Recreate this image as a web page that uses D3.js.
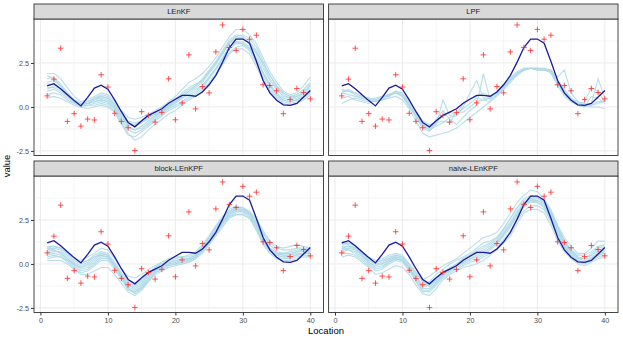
<!DOCTYPE html>
<html><head><meta charset="utf-8">
<script src="https://cdn.jsdelivr.net/npm/d3@7"></script>
<style>body{margin:0;background:#fff}svg{display:block;font-family:"Liberation Sans",Arial,sans-serif}</style>
</head><body><svg id="c" width="623" height="340"></svg>
<script>
const locations = d3.range(1, 41);
const panels = ["LEnKF", "LPF", "block-LEnKPF", "naive-LEnKPF"];
const xTicks = [0, 10, 20, 30, 40];
const yTicks = [-2.5, 0.0, 2.5];
const yTickLabels = ["-2.5", "0.0", "2.5"];

const observations = [0.63,1.58,3.34,-0.82,-0.38,-1.09,-0.69,-0.74,1.83,1.13,-0.36,-0.82,-1.18,-2.48,-0.27,-0.48,-0.86,-0.31,1.60,-0.73,0.23,2.96,-0.11,1.16,0.80,3.13,4.66,3.38,3.21,4.41,3.85,4.08,1.26,1.22,0.92,-0.38,0.42,1.05,0.82,0.46];
const truth = [1.20,1.32,1.03,0.69,0.36,0.06,0.55,1.07,1.24,1.01,0.40,-0.27,-0.88,-1.13,-0.78,-0.48,-0.29,-0.10,0.21,0.44,0.66,0.66,0.61,0.85,1.26,1.80,2.55,3.38,3.86,3.86,3.62,2.60,1.50,0.80,0.38,0.12,0.09,0.20,0.57,0.94];

const ensLEnKF = [
[1.9,1.9,1.6,1.1,0.6,0.3,0.4,0.6,0.8,0.7,0.3,-0.2,-0.6,-0.7,-0.6,-0.4,-0.2,0.0,0.3,0.6,1.0,1.4,1.6,1.9,2.3,2.8,3.4,4.0,4.4,4.4,4.1,3.6,2.8,2.0,1.4,0.9,0.7,0.8,1.2,1.7],
[0.5,0.6,0.5,0.3,0.1,0.0,-0.1,0.0,0.1,0.0,-0.3,-0.9,-1.5,-1.9,-1.7,-1.3,-1.0,-0.7,-0.4,-0.2,0.1,0.4,0.6,0.9,1.3,1.8,2.4,3.0,3.3,3.3,3.0,2.3,1.5,0.9,0.5,0.2,0.1,0.2,0.4,0.7],
[1.4,1.5,1.2,0.8,0.4,0.2,0.3,0.5,0.6,0.5,0.1,-0.4,-0.9,-1.0,-0.8,-0.6,-0.4,-0.2,0.1,0.4,0.8,1.1,1.3,1.5,2.0,2.5,3.1,3.7,4.0,3.9,3.6,3.1,2.5,1.8,1.2,0.8,0.6,0.6,0.9,1.3],
[0.9,1.0,0.8,0.5,0.2,0.0,0.1,0.2,0.3,0.2,-0.2,-0.8,-1.3,-1.5,-1.3,-1.0,-0.7,-0.4,-0.1,0.1,0.3,0.6,0.8,1.1,1.6,2.1,2.7,3.3,3.6,3.6,3.3,2.7,1.9,1.2,0.7,0.4,0.3,0.4,0.6,0.9],
[1.6,1.7,1.3,0.8,0.4,0.1,0.2,0.4,0.5,0.4,0.0,-0.5,-1.0,-1.1,-0.9,-0.7,-0.5,-0.3,0.0,0.3,0.6,0.9,1.1,1.4,1.9,2.4,3.0,3.6,3.9,3.9,3.6,3.0,2.2,1.5,1.0,0.6,0.5,0.6,0.8,1.1],
[1.1,1.1,0.9,0.6,0.3,0.1,0.2,0.3,0.4,0.3,-0.1,-0.7,-1.2,-1.3,-1.1,-0.8,-0.5,-0.2,0.0,0.2,0.5,0.8,1.0,1.2,1.7,2.2,2.8,3.4,3.7,3.7,3.4,2.8,2.0,1.3,0.8,0.5,0.4,0.4,0.6,0.9],
[1.3,1.3,1.0,0.6,0.3,0.2,0.3,0.5,0.7,0.6,0.2,-0.3,-0.8,-0.9,-0.8,-0.5,-0.3,-0.1,0.2,0.5,0.7,1.0,1.2,1.6,2.1,2.6,3.2,3.8,4.1,4.0,3.7,3.2,2.4,1.6,1.1,0.7,0.5,0.5,0.8,1.2],
[0.7,0.8,0.7,0.4,0.2,0.1,0.1,0.1,0.2,0.1,-0.3,-1.0,-1.6,-1.7,-1.4,-1.1,-0.8,-0.5,-0.2,0.0,0.2,0.5,0.7,1.0,1.4,1.9,2.5,3.1,3.4,3.5,3.2,2.5,1.7,1.0,0.6,0.3,0.2,0.3,0.5,0.8],
[1.8,1.6,1.2,0.7,0.3,0.1,0.2,0.4,0.6,0.5,0.1,-0.5,-1.1,-1.3,-1.2,-0.9,-0.6,-0.3,0.0,0.3,0.6,0.9,1.2,1.5,2.0,2.5,3.1,3.6,4.0,4.1,3.9,3.4,2.6,1.8,1.2,0.8,0.6,0.7,1.0,1.4],
[1.0,1.2,1.0,0.7,0.4,0.2,0.2,0.3,0.4,0.3,-0.1,-0.6,-1.0,-1.1,-0.9,-0.6,-0.4,-0.2,0.1,0.3,0.5,0.7,0.9,1.2,1.7,2.2,2.8,3.4,3.7,3.6,3.3,2.7,1.9,1.2,0.7,0.4,0.3,0.4,0.7,1.0]
];
const ensLPF = [
[0.9,0.9,0.8,0.6,0.5,0.4,0.4,0.5,0.6,0.4,-0.1,-0.8,-1.5,-1.7,-1.6,-1.5,-1.4,-1.2,-0.9,-0.6,-0.3,0.0,0.3,0.6,1.0,1.4,1.8,2.1,2.2,2.1,2.1,2.1,1.4,0.7,0.4,0.2,0.1,0.0,0.0,-0.1],
[1.0,0.9,0.7,0.5,0.4,0.3,0.5,0.7,0.8,0.6,0.1,-0.5,-1.1,-1.3,-0.7,-0.2,-0.7,-1.0,-0.6,-0.2,0.1,1.9,0.4,0.7,1.1,1.5,1.9,2.1,2.2,2.2,2.2,2.1,1.7,2.1,0.8,0.3,0.1,0.2,1.6,0.5],
[0.8,0.7,0.6,0.5,0.4,0.5,0.6,0.7,0.9,0.7,0.2,-0.4,-1.0,-1.2,-1.0,0.4,-0.5,-0.4,0.2,0.5,0.6,0.8,0.6,0.8,1.2,1.6,1.9,2.2,2.2,2.1,2.1,2.0,1.5,1.0,0.5,0.2,0.3,1.1,0.9,0.3],
[0.5,0.6,0.4,0.3,0.2,0.4,0.6,0.6,0.8,0.7,0.1,-0.6,-1.2,-1.4,-0.9,-0.8,-0.9,-0.3,-0.3,0.0,0.3,0.4,0.5,0.9,1.3,1.7,2.0,2.2,2.2,2.2,2.2,1.9,1.3,0.8,0.4,0.1,0.0,0.6,0.5,0.2],
[0.2,0.4,0.5,0.4,0.3,0.3,0.5,0.7,0.8,0.6,0.0,-0.5,-1.0,-1.3,-1.1,-0.9,-0.6,-0.5,0.0,0.8,1.5,0.5,0.5,0.8,1.2,1.6,1.9,2.1,2.2,2.1,2.1,2.0,1.2,0.6,0.3,0.1,0.0,0.1,0.3,0.3],
[0.8,1.0,0.8,0.6,0.5,0.3,0.4,0.6,0.9,0.8,0.3,-0.2,-0.8,-1.0,-0.9,-0.5,-0.3,-0.4,-0.1,0.2,0.5,0.4,0.3,0.7,1.0,1.5,1.9,2.1,2.2,2.2,2.1,2.1,1.5,0.9,0.5,0.3,0.2,0.1,0.2,0.4]
];
const ensBlock = [
[1.0,1.0,0.9,0.6,0.3,0.2,0.4,0.6,0.9,0.8,0.3,-0.3,-0.7,-0.8,-0.6,-0.3,-0.1,0.1,0.2,0.3,0.4,0.4,0.6,1.0,1.5,2.1,2.6,3.0,3.2,3.2,3.0,2.6,1.9,1.3,1.0,0.9,1.0,1.1,1.0,0.9],
[0.2,0.2,0.2,0.0,-0.3,-0.6,-0.6,-0.4,-0.2,-0.2,-0.6,-1.1,-1.6,-1.8,-1.5,-1.0,-0.6,-0.4,-0.2,-0.1,0.0,0.1,0.3,0.7,1.2,1.8,2.3,2.7,2.8,2.8,2.6,2.0,1.2,0.7,0.4,0.3,0.3,0.4,0.5,0.5],
[0.8,0.9,0.8,0.5,0.2,0.0,0.2,0.5,0.7,0.6,0.1,-0.5,-1.0,-1.1,-0.9,-0.5,-0.2,0.0,0.1,0.2,0.3,0.3,0.5,0.9,1.4,2.0,2.5,2.9,3.1,3.1,2.9,2.4,1.7,1.1,0.7,0.6,0.6,0.7,0.7,0.7],
[0.5,0.6,0.5,0.2,-0.1,-0.4,-0.3,0.0,0.3,0.3,-0.2,-0.8,-1.3,-1.5,-1.3,-0.8,-0.4,-0.2,0.0,0.1,0.1,0.2,0.4,0.8,1.3,1.9,2.4,2.8,3.0,3.0,2.8,2.3,1.5,0.9,0.6,0.5,0.5,0.6,0.6,0.6],
[0.9,0.8,0.6,0.3,0.0,-0.2,0.0,0.3,0.6,0.5,0.0,-0.6,-1.2,-1.4,-1.2,-0.7,-0.3,-0.1,0.1,0.2,0.2,0.3,0.5,0.9,1.5,2.1,2.6,3.1,3.3,3.2,2.9,2.3,1.5,0.9,0.6,0.5,0.5,0.7,0.8,0.8],
[0.6,0.7,0.7,0.4,0.1,-0.1,0.1,0.4,0.6,0.5,0.0,-0.6,-1.1,-1.2,-1.0,-0.6,-0.3,-0.1,0.0,0.1,0.2,0.3,0.5,0.8,1.3,1.8,2.3,2.8,3.0,3.0,2.8,2.2,1.4,0.8,0.5,0.4,0.4,0.5,0.6,0.6],
[0.4,0.5,0.4,0.2,0.0,-0.3,-0.2,0.1,0.4,0.4,-0.1,-0.7,-1.4,-1.7,-1.4,-0.9,-0.5,-0.3,-0.1,0.0,0.1,0.2,0.4,0.7,1.2,1.7,2.2,2.7,2.9,2.9,2.7,2.1,1.3,0.8,0.5,0.4,0.4,0.5,0.6,0.6],
[0.9,1.0,0.9,0.6,0.3,0.1,0.2,0.4,0.5,0.4,-0.1,-0.7,-1.2,-1.3,-1.1,-0.6,-0.2,0.1,0.3,0.4,0.4,0.5,0.7,1.1,1.6,2.2,2.7,3.0,3.2,3.1,2.9,2.5,1.8,1.2,0.9,0.8,0.8,0.9,0.9,0.8],
[0.7,0.8,0.6,0.3,0.0,-0.2,-0.1,0.2,0.5,0.4,-0.1,-0.8,-1.5,-1.6,-1.3,-0.8,-0.4,-0.2,0.0,0.0,0.1,0.2,0.4,0.8,1.3,1.9,2.4,2.9,3.1,3.0,2.8,2.2,1.4,0.9,0.6,0.6,0.7,0.8,0.8,0.7],
[0.3,0.4,0.4,0.1,-0.2,-0.5,-0.4,-0.1,0.2,0.2,-0.3,-0.9,-1.4,-1.6,-1.4,-1.0,-0.5,-0.3,-0.1,0.0,0.0,0.1,0.3,0.6,1.1,1.6,2.1,2.6,2.8,2.8,2.6,1.9,1.1,0.6,0.3,0.2,0.2,0.3,0.4,0.4]
];
const ensNaive = [
[1.3,1.2,1.0,0.7,0.4,0.2,0.3,0.5,0.6,0.5,0.0,-0.5,-0.9,-0.7,-0.4,-0.1,0.1,0.3,0.6,0.9,1.2,1.5,1.6,1.8,2.3,2.9,3.5,3.9,4.2,4.1,3.7,3.1,2.2,1.5,1.0,0.6,0.6,0.9,1.3,1.3],
[0.4,0.5,0.4,0.1,-0.2,-0.6,-0.5,-0.3,-0.1,-0.2,-0.6,-1.2,-1.7,-1.8,-1.4,-0.9,-0.6,-0.4,-0.2,-0.1,0.0,0.2,0.5,0.8,1.2,1.6,2.3,2.9,3.1,3.1,2.9,2.2,1.3,0.7,0.3,0.0,-0.1,0.1,0.3,0.4],
[1.0,1.0,0.8,0.5,0.2,0.0,0.1,0.3,0.4,0.3,-0.2,-0.7,-1.2,-1.1,-0.8,-0.5,-0.2,0.0,0.3,0.5,0.7,0.9,1.1,1.4,1.9,2.4,3.0,3.5,3.7,3.6,3.4,2.8,1.9,1.2,0.7,0.4,0.3,0.5,0.8,0.9],
[0.7,0.8,0.6,0.3,0.0,-0.3,-0.2,0.1,0.3,0.2,-0.3,-0.9,-1.4,-1.4,-1.1,-0.7,-0.4,-0.2,0.0,0.2,0.3,0.5,0.8,1.1,1.6,2.1,2.7,3.3,3.5,3.5,3.2,2.5,1.6,1.0,0.5,0.2,0.1,0.3,0.5,0.6],
[1.1,1.2,1.0,0.6,0.3,0.0,0.0,0.2,0.4,0.3,-0.2,-0.8,-1.3,-1.0,-0.6,-0.3,0.0,0.2,0.4,0.6,0.9,1.2,1.3,1.5,2.0,2.6,3.2,3.7,3.9,3.8,3.6,3.0,2.1,1.3,0.8,0.5,0.5,0.7,1.0,1.1],
[0.8,0.9,0.8,0.5,0.1,-0.1,0.0,0.2,0.3,0.2,-0.3,-1.0,-1.6,-1.5,-1.1,-0.6,-0.3,-0.1,0.1,0.3,0.5,0.7,0.9,1.2,1.7,2.2,2.8,3.3,3.6,3.6,3.4,2.7,1.8,1.1,0.6,0.3,0.2,0.4,0.6,0.7],
[0.9,1.0,0.9,0.6,0.3,0.1,0.2,0.3,0.5,0.4,-0.1,-0.6,-1.0,-1.2,-0.9,-0.5,-0.3,-0.1,0.2,0.4,0.6,0.8,1.0,1.3,1.8,2.3,2.9,3.4,3.7,3.7,3.5,3.0,2.1,1.3,0.8,0.4,0.3,0.5,0.7,0.8],
[0.6,0.6,0.5,0.2,-0.1,-0.4,-0.3,0.0,0.2,0.1,-0.4,-1.0,-1.5,-1.6,-1.2,-0.8,-0.5,-0.3,-0.1,0.1,0.2,0.4,0.6,0.9,1.4,1.9,2.5,3.0,3.3,3.3,3.1,2.4,1.5,0.9,0.4,0.1,0.0,0.2,0.4,0.5],
[1.2,1.1,0.9,0.5,0.2,0.1,0.2,0.4,0.5,0.4,0.0,-0.5,-1.0,-1.3,-1.0,-0.6,-0.3,0.0,0.3,0.5,0.8,1.0,1.2,1.5,2.0,2.6,3.2,3.6,3.8,3.8,3.5,2.9,2.0,1.2,0.7,0.3,0.3,0.6,0.9,1.0],
[0.9,0.8,0.7,0.4,0.1,-0.2,-0.1,0.1,0.3,0.2,-0.2,-0.8,-1.3,-1.2,-0.9,-0.6,-0.4,-0.1,0.1,0.3,0.4,0.6,0.9,1.2,1.7,2.2,2.8,3.4,3.6,3.5,3.3,2.6,1.7,1.0,0.5,0.2,0.1,0.3,0.5,0.7]
];
const ensembles = [ensLEnKF, ensLPF, ensBlock, ensNaive];

const svg = d3.select("#c");
const colX = [[34, 323.5], [328.6, 618]];
const rowY = [{strip: 4, top: 19, bottom: 155.5}, {strip: 161, top: 176, bottom: 312.5}];
const fontAxis = "7.2px";

panels.forEach((name, i) => {
  const col = i % 2, row = Math.floor(i / 2);
  const [x0, x1] = colX[col];
  const r = rowY[row];
  const x = d3.scaleLinear().domain([-0.95, 41.95]).range([x0, x1]);
  const y = d3.scaleLinear().domain([-2.76, 5.0]).range([r.bottom, r.top]);
  const g = svg.append("g");
  // background
  g.append("rect").attr("x", x0).attr("y", r.top).attr("width", x1 - x0).attr("height", r.bottom - r.top).attr("fill", "#fff");
  // minor grid
  [5, 15, 25, 35].forEach(v => g.append("line").attr("x1", x(v)).attr("x2", x(v)).attr("y1", r.top).attr("y2", r.bottom).attr("stroke", "#ebebeb").attr("stroke-width", 0.5));
  [-1.25, 1.25, 3.75].forEach(v => g.append("line").attr("y1", y(v)).attr("y2", y(v)).attr("x1", x0).attr("x2", x1).attr("stroke", "#ebebeb").attr("stroke-width", 0.5));
  // major grid
  xTicks.forEach(v => g.append("line").attr("x1", x(v)).attr("x2", x(v)).attr("y1", r.top).attr("y2", r.bottom).attr("stroke", "#ebebeb").attr("stroke-width", 1));
  yTicks.forEach(v => g.append("line").attr("y1", y(v)).attr("y2", y(v)).attr("x1", x0).attr("x2", x1).attr("stroke", "#ebebeb").attr("stroke-width", 1));

  const line = d3.line().x((d, k) => x(locations[k])).y(d => y(d));
  g.append("g").selectAll("path").data(ensembles[i]).join("path")
    .attr("d", line).attr("fill", "none").attr("stroke", "#add8e6").attr("stroke-opacity", 0.85).attr("stroke-width", 1.1);
  g.append("path").attr("d", line(truth)).attr("fill", "none").attr("stroke", "#1a1a9c").attr("stroke-width", 1.3);
  const s = 2.8;
  g.append("g").selectAll("path").data(observations).join("path")
    .attr("d", (d, k) => `M${x(locations[k]) - s},${y(d)}H${x(locations[k]) + s}M${x(locations[k])},${y(d) - s}V${y(d) + s}`)
    .attr("stroke", "#ff2a2a").attr("stroke-opacity", 0.8).attr("stroke-width", 1);

  // border
  g.append("rect").attr("x", x0).attr("y", r.top).attr("width", x1 - x0).attr("height", r.bottom - r.top).attr("fill", "none").attr("stroke", "#333").attr("stroke-width", 0.9);
  // strip
  g.append("rect").attr("x", x0).attr("y", r.strip).attr("width", x1 - x0).attr("height", r.top - r.strip).attr("fill", "#d9d9d9").attr("stroke", "#333").attr("stroke-width", 0.9);
  g.append("text").attr("x", (x0 + x1) / 2).attr("y", (r.strip + r.top) / 2 + 0.5).attr("text-anchor", "middle").attr("dominant-baseline", "middle")
    .attr("font-size", "7.6px").attr("fill", "#1a1a1a").text(name);

  if (col === 0) {
    const ax = g.append("g").attr("transform", `translate(${x0},0)`)
      .call(d3.axisLeft(y).tickValues(yTicks).tickFormat((d, k) => yTickLabels[k]).tickSize(3).tickPadding(2));
    ax.select(".domain").remove();
    ax.selectAll("line").attr("stroke", "#333");
    ax.selectAll("text").attr("fill", "#4d4d4d").attr("font-size", fontAxis).attr("font-family", "Liberation Sans, Arial, sans-serif");
  }
  if (row === 1) {
    const ax = g.append("g").attr("transform", `translate(0,${r.bottom})`)
      .call(d3.axisBottom(x).tickValues(xTicks).tickSize(3).tickPadding(2));
    ax.select(".domain").remove();
    ax.selectAll("line").attr("stroke", "#333");
    ax.selectAll("text").attr("fill", "#4d4d4d").attr("font-size", fontAxis).attr("font-family", "Liberation Sans, Arial, sans-serif");
  }
});

svg.append("text").attr("x", 326).attr("y", 334).attr("text-anchor", "middle").attr("font-size", "9.5px").attr("fill", "#000").text("Location");
svg.append("text").attr("transform", "translate(10,166) rotate(-90)").attr("text-anchor", "middle").attr("font-size", "9.5px").attr("fill", "#000").text("value");
</script></body></html>
